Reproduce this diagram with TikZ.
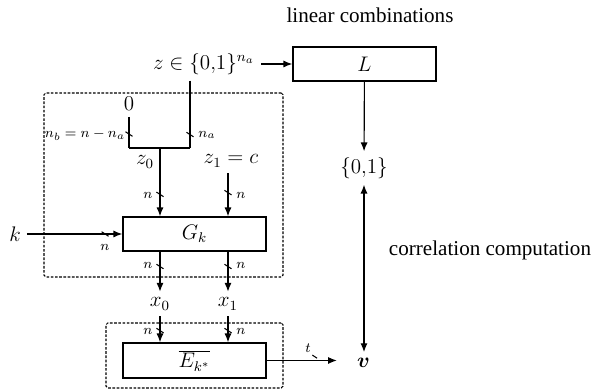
\documentclass[tikz,border=0pt]{standalone}
\usepackage{fontspec}
\setmainfont{Liberation Serif}
\usepackage{bm}
\usepackage{tikz}
\usetikzlibrary{arrows.meta,positioning,decorations.markings}

\begin{document}
\begin{tikzpicture}[
  box/.style={draw, line width=0.85pt, minimum width=2.86cm, minimum height=0.68cm, font=\large},
  lbl/.style={font=\large},
  small/.style={font=\footnotesize, inner sep=1pt},
  wire/.style={line width=0.65pt},
  arr/.style={-{Latex[length=5pt,width=4pt]}, line width=0.65pt},
  frame/.style={draw, dash pattern=on 1.5pt off 0.9pt, line width=0.6pt, rounded corners=1pt},
  buswd/.style={postaction={decorate, decoration={markings, mark=at position #1 with {\pgftransformresetnontranslations \draw[-, line width=0.6pt] (-2pt,1.3pt) -- (2pt,-1.3pt);}}}}
]
\useasboundingbox (0,0) rectangle (11.88,7.8);

% Dashed frames
\node[frame, minimum width=4.78cm, minimum height=3.68cm] (genframe) at (3.27,4.10) {};
\node[frame, minimum width=3.54cm, minimum height=1.30cm] (encframe) at (3.89,0.69) {};

% Linear combinations (top right)
\node[lbl] (lincomb) at (7.40,7.50) {linear combinations};
\node[box] (lmap) at (7.29,6.52) {$L$};
\node[lbl, anchor=east] (zin) at (5.22,6.52) {$z\in\{0{,}1\}^{n_a}$};
\node[lbl] (bits) at (7.28,4.44) {$\{0{,}1\}$};
\node[lbl] (corr) at (9.80,2.80) {correlation computation};

% Splitting of the input
\node[lbl] (zero) at (2.58,5.72) {$0$};
\coordinate (jl) at (2.58,4.84);
\coordinate (jr) at (3.80,4.84);
\coordinate (jm) at (3.20,4.84);
\node[lbl] (z0) at (2.90,4.56) {$z_0$};
\node[lbl] (z1) at (4.62,4.58) {$z_1 = c$};

% Generator and encryption
\node[box] (gk) at (3.89,3.12) {$G_k$};
\node[lbl] (k) at (0.30,3.12) {$k$};
\node[lbl] (x0) at (3.20,1.72) {$x_0$};
\node[lbl] (x1) at (4.56,1.72) {$x_1$};
\node[box, minimum height=0.70cm] (ek) at (3.89,0.59) {$\overline{E_{k^*}}$};
\node[lbl] (v) at (7.27,0.54) {$\bm{v}$};

% Bus widths
\node[small] (wb) at (1.70,5.10) {$n_b = n - n_a$};
\node[small] (wa) at (4.14,5.10) {$n_a$};
\node[small] (wg0) at (2.96,3.90) {$n$};
\node[small] (wg1) at (4.82,3.90) {$n$};
\node[small] (wk) at (2.10,2.86) {$n$};
\node[small] (wx0) at (2.96,2.50) {$n$};
\node[small] (wx1) at (4.82,2.50) {$n$};
\node[small] (we0) at (2.96,1.18) {$n$};
\node[small] (we1) at (4.82,1.18) {$n$};
\node[small] (wt) at (6.16,0.84) {$t$};

% Connectors
\draw[arr] (zin.east) -- (lmap.west);
\draw[wire, buswd=0.8] (jr |- zin.south) -- (jr);
\draw[wire, buswd=0.55] (zero) -- (jl);
\draw[wire] (jl) -- (jr);
\draw[arr, buswd=0.68] (jm) -- (jm |- gk.north);
\draw[arr, buswd=0.45] (x1 |- z1.south) -- (x1 |- gk.north);
\draw[arr, buswd=0.82] (k) -- (gk);
\foreach \n in {x0, x1} {
  \draw[arr, buswd=0.37] (\n |- gk.south) -- (\n);
  \draw[arr, buswd=0.55] (\n) -- (\n |- ek.north);
}
\draw[arr, buswd=0.64, shorten >=8pt] (ek.east) -- (ek.east -| v.west);
\draw[arr] (lmap) -- (bits);
\draw[{Latex[length=5pt,width=4pt]}-{Latex[length=5pt,width=4pt]}, line width=0.65pt] (bits) -- (bits |- v.north);

\end{tikzpicture}
\end{document}
